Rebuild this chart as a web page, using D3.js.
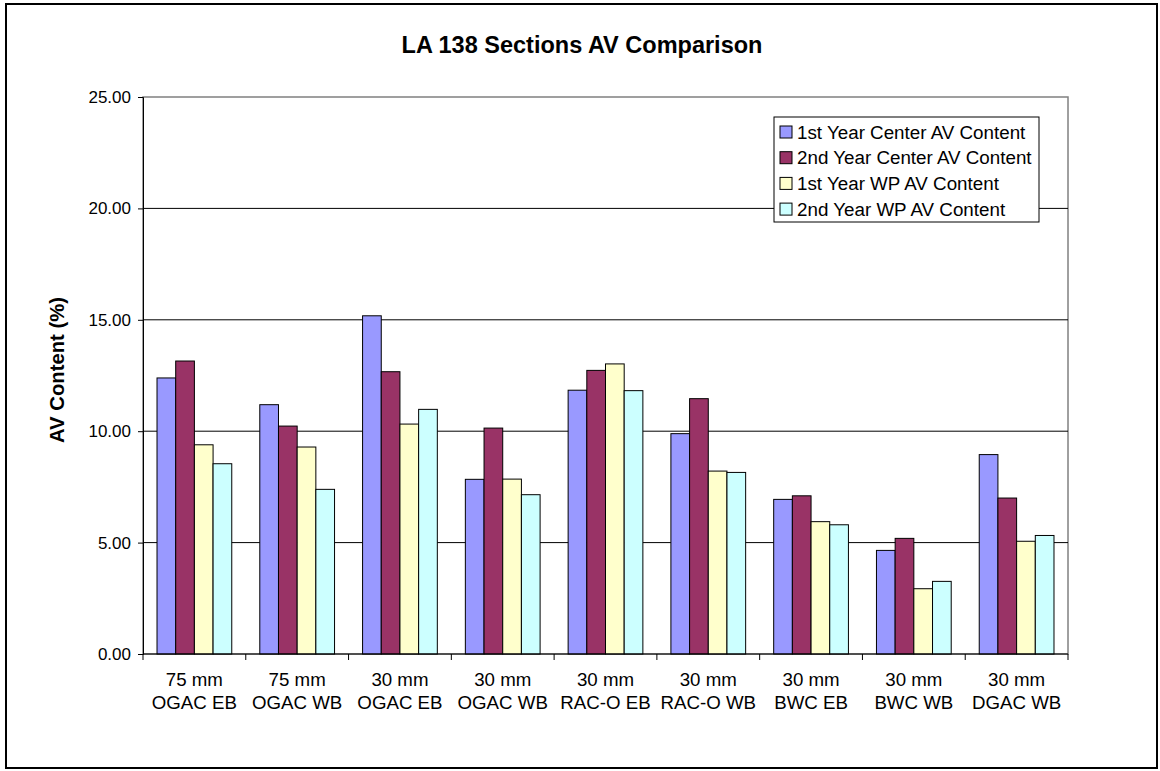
<!DOCTYPE html>
<html>
<head>
<meta charset="utf-8">
<script src="https://cdn.jsdelivr.net/npm/d3@7"></script>
<style>
  html, body { margin: 0; padding: 0; background: #fff; }
  svg { display: block; font-family: Arial, "Liberation Sans", sans-serif; }
</style>
</head>
<body>
<svg id="chart" width="1160" height="771"></svg>
<script>
const categories = [
  ["75 mm", "OGAC EB"], ["75 mm", "OGAC WB"], ["30 mm", "OGAC EB"],
  ["30 mm", "OGAC WB"], ["30 mm", "RAC-O EB"], ["30 mm", "RAC-O WB"],
  ["30 mm", "BWC EB"], ["30 mm", "BWC WB"], ["30 mm", "DGAC WB"]
];
const seriesNames = [
  "1st Year Center AV Content", "2nd Year Center AV Content",
  "1st Year WP AV Content", "2nd Year WP AV Content"
];
const firstYearCenter  = [12.39, 11.19, 15.18, 7.84, 11.84, 9.89, 6.94, 4.65, 8.95];
const secondYearCenter = [13.15, 10.23, 12.67, 10.14, 12.73, 11.46, 7.10, 5.19, 7.00];
const firstYearWP      = [9.39, 9.29, 10.32, 7.85, 13.02, 8.21, 5.94, 2.93, 5.06];
const secondYearWP     = [8.54, 7.39, 10.98, 7.15, 11.82, 8.15, 5.80, 3.26, 5.32];
const seriesValues = [firstYearCenter, secondYearCenter, firstYearWP, secondYearWP];
const colors = ["#9999FF", "#993366", "#FFFFCC", "#CCFFFF"];
const yTicks = [0, 5, 10, 15, 20, 25];

const svg = d3.select("#chart");
const plot = { left: 143, right: 1068, top: 97, bottom: 654 };

// outer border
svg.append("rect").attr("x", 6).attr("y", 4).attr("width", 1151).attr("height", 764)
  .attr("fill", "#fff").attr("stroke", "#000").attr("stroke-width", 2);

// title
svg.append("text").attr("x", 582).attr("y", 53).attr("text-anchor", "middle")
  .attr("font-size", 23.5).attr("font-weight", "bold").text("LA 138 Sections AV Comparison");

const catKeys = categories.map((c, i) => i);
const x = d3.scaleBand().domain(catKeys).range([plot.left, plot.right]).paddingInner(0).paddingOuter(0);
const xs = d3.scaleBand().domain(d3.range(seriesNames.length)).range([0, x.bandwidth()])
  .paddingInner(0).paddingOuter(0.75);
const y = d3.scaleLinear().domain([0, 25]).range([plot.bottom, plot.top]);

// plot area border
svg.append("rect").attr("x", plot.left).attr("y", plot.top)
  .attr("width", plot.right - plot.left).attr("height", plot.bottom - plot.top)
  .attr("fill", "none").attr("stroke", "#808080").attr("stroke-width", 1.5);

// gridlines
svg.append("g").selectAll("line").data(yTicks.filter(t => t > 0 && t < 25)).join("line")
  .attr("x1", plot.left).attr("x2", plot.right)
  .attr("y1", d => y(d)).attr("y2", d => y(d))
  .attr("stroke", "#000").attr("stroke-width", 1);

// bars
const groups = svg.append("g").selectAll("g").data(catKeys).join("g")
  .attr("transform", d => `translate(${x(d)},0)`);
groups.selectAll("rect").data(ci => seriesValues.map((vals, si) => ({ si, v: vals[ci] }))).join("rect")
  .attr("x", d => xs(d.si)).attr("width", xs.bandwidth())
  .attr("y", d => y(d.v)).attr("height", d => y(0) - y(d.v))
  .attr("fill", d => colors[d.si]).attr("stroke", "#000").attr("stroke-width", 1);

// y axis
const yAxis = svg.append("g").attr("transform", `translate(${plot.left},0)`)
  .call(d3.axisLeft(y).tickValues(yTicks).tickFormat(d3.format(".2f")).tickSize(5).tickPadding(7));
yAxis.select(".domain").attr("stroke", "#000");
yAxis.selectAll("text").attr("font-size", 17).attr("fill", "#000")
  .style("font-family", "Arial, 'Liberation Sans', sans-serif");

// x axis
const xAxisG = svg.append("g").attr("transform", `translate(0,${plot.bottom})`);
xAxisG.append("line").attr("x1", plot.left).attr("x2", plot.right).attr("y1", 0).attr("y2", 0)
  .attr("stroke", "#000");
const boundaries = catKeys.map(k => x(k)).concat([plot.right]);
xAxisG.selectAll("line.tick").data(boundaries).join("line").attr("class", "tick")
  .attr("x1", d => d).attr("x2", d => d).attr("y1", 0).attr("y2", 6).attr("stroke", "#000");
const labels = xAxisG.selectAll("text").data(catKeys).join("text")
  .attr("x", d => x(d) + x.bandwidth() / 2).attr("text-anchor", "middle")
  .attr("font-size", 18.7).attr("fill", "#000");
labels.append("tspan").attr("x", d => x(d) + x.bandwidth() / 2).attr("y", 32).text(d => categories[d][0]);
labels.append("tspan").attr("x", d => x(d) + x.bandwidth() / 2).attr("y", 55).text(d => categories[d][1]);

// y axis title
svg.append("text").attr("transform", "translate(64,370) rotate(-90)")
  .attr("text-anchor", "middle").attr("font-size", 20.3).attr("font-weight", "bold")
  .text("AV Content (%)");

// legend
const lg = svg.append("g");
lg.append("rect").attr("x", 774).attr("y", 117).attr("width", 265).attr("height", 105)
  .attr("fill", "#fff").attr("stroke", "#000").attr("stroke-width", 1);
const items = lg.selectAll("g.item").data(seriesNames).join("g").attr("class", "item")
  .attr("transform", (d, i) => `translate(0,${132 + i * 25.7})`);
items.append("rect").attr("x", 780).attr("y", -6).attr("width", 12).attr("height", 12)
  .attr("fill", (d, i) => colors[i]).attr("stroke", "#000").attr("stroke-width", 1);
items.append("text").attr("x", 797).attr("y", 6.5).attr("font-size", 18.8).attr("fill", "#000")
  .text(d => d);
</script>
</body>
</html>
